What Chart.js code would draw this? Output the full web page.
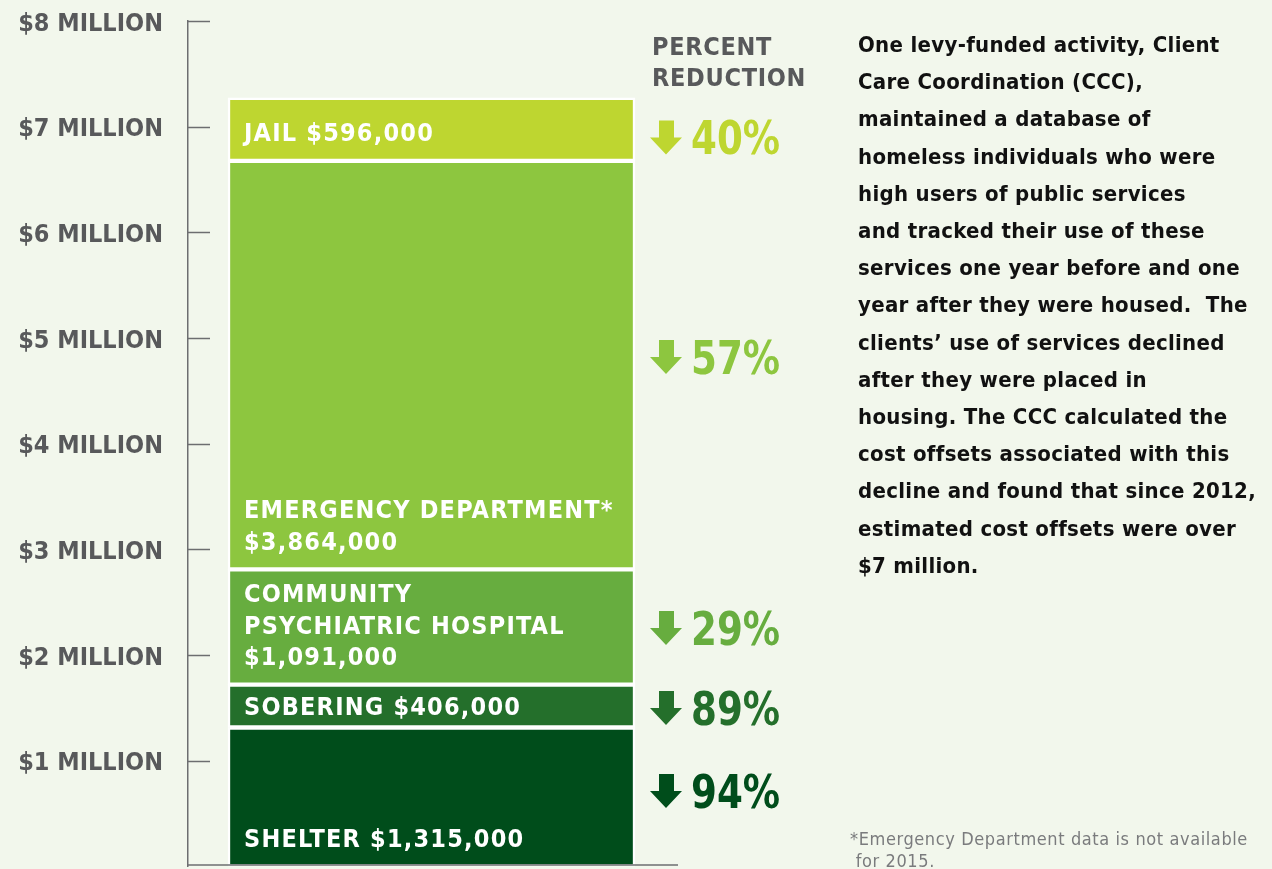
<!DOCTYPE html>
<html>
<head>
<meta charset="utf-8">
<script src="https://cdn.jsdelivr.net/npm/chart.js@4.4.1/dist/chart.umd.min.js"></script>
<style>
  html, body { margin: 0; padding: 0; }
  body { width: 1272px; height: 869px; background: #f2f7ec; position: relative; overflow: hidden;
         font-family: "DejaVu Sans Condensed", "DejaVu Sans", sans-serif; }
  #costChart { position: absolute; left: 0; top: 0; }
  .pct-title { position: absolute; left: 652px; top: 31px; color: #58595b; font-weight: bold;
               font-size: 25px; line-height: 31px; letter-spacing: 0.7px; }
  .story { position: absolute; left: 858px; top: 26px; color: #111; font-weight: bold;
           font-size: 22px; line-height: 37.2px; letter-spacing: 0.3px; }
  .note { position: absolute; left: 850px; top: 828px; color: #7a7b7d; font-size: 18px;
          line-height: 22px; letter-spacing: 0.6px; }
</style>
</head>
<body>
<canvas id="costChart" width="1272" height="869"></canvas>
<div class="pct-title">PERCENT<br>REDUCTION</div>
<div class="story">
  One levy-funded activity, Client<br>
  Care Coordination (CCC),<br>
  maintained a database of<br>
  homeless individuals who were<br>
  high users of public services<br>
  and tracked their use of these<br>
  services one year before and one<br>
  year after they were housed.&nbsp; The<br>
  clients’ use of services declined<br>
  after they were placed in<br>
  housing. The CCC calculated the<br>
  cost offsets associated with this<br>
  decline and found that since 2012,<br>
  estimated cost offsets were over<br>
  $7 million.
</div>
<div class="note">*Emergency Department data is not available<br>&nbsp;for 2015.</div>

<script>
// stacked from the bottom up
const services = ['Shelter', 'Sobering', 'Community Psychiatric Hospital', 'Emergency Department', 'Jail'];
const costs = [1315000, 406000, 1091000, 3864000, 596000];
const reductions = [94, 89, 29, 57, 40];
const segmentLabels = [
  ['SHELTER $1,315,000'],
  ['SOBERING $406,000'],
  ['COMMUNITY', 'PSYCHIATRIC HOSPITAL', '$1,091,000'],
  ['EMERGENCY DEPARTMENT*', '$3,864,000'],
  ['JAIL $596,000']
];
const colors = ['#004d1b', '#246f2b', '#67ad3f', '#8dc63f', '#bed630'];
const yTicks = [1, 2, 3, 4, 5, 6, 7, 8];

const axisGray = '#6d6e70';
const FONT = '"DejaVu Sans Condensed", "DejaVu Sans", sans-serif';
// small hand nudges of the percent labels, as in the original layout
const pctNudge = [-6, 2, 1, -8, 8];

const overlayPlugin = {
  id: 'overlay',
  afterDatasetsDraw(chart) {
    const { ctx, scales: { y }, chartArea } = chart;
    ctx.save();

    // tick marks on the inner side of the axis
    ctx.strokeStyle = axisGray;
    ctx.lineWidth = 1.5;
    yTicks.forEach(t => {
      const py = Math.round(y.getPixelForValue(t * 1e6)) + 0.5;
      ctx.beginPath();
      ctx.moveTo(chartArea.left, py);
      ctx.lineTo(chartArea.left + 22, py);
      ctx.stroke();
    });
    // baseline
    const by = y.getPixelForValue(0) - 1.5;
    ctx.beginPath();
    ctx.moveTo(chartArea.left, by);
    ctx.lineTo(678, by);
    ctx.stroke();

    chart.data.datasets.forEach((ds, i) => {
      const bar = chart.getDatasetMeta(i).data[0];
      const top = bar.y, bottom = bar.base;
      const mid = (top + bottom) / 2;
      const left = bar.x - bar.width / 2;
      const right = bar.x + bar.width / 2;

      // segment label, anchored near the bottom of the segment
      const lines = segmentLabels[i];
      const lastY = Math.max(mid + 2, bottom - 26);
      ctx.fillStyle = '#ffffff';
      ctx.font = 'bold 25px ' + FONT;
      ctx.letterSpacing = '1.2px';
      ctx.textAlign = 'left';
      ctx.textBaseline = 'middle';
      lines.forEach((ln, k) => {
        ctx.fillText(ln, left + 16, lastY - (lines.length - 1 - k) * 31.5);
      });

      // arrow + percent reduction
      const cy = mid + pctNudge[i];
      const ax = right + 15;
      ctx.fillStyle = colors[i];
      ctx.beginPath();
      ctx.moveTo(ax + 9, cy - 17);
      ctx.lineTo(ax + 24, cy - 17);
      ctx.lineTo(ax + 24, cy);
      ctx.lineTo(ax + 32, cy);
      ctx.lineTo(ax + 16, cy + 17);
      ctx.lineTo(ax, cy);
      ctx.lineTo(ax + 9, cy);
      ctx.closePath();
      ctx.fill();

      ctx.save();
      ctx.translate(ax + 41, cy + 17);
      ctx.scale(0.88, 1);
      ctx.font = 'bold 47px ' + FONT;
      ctx.letterSpacing = '0px';
      ctx.textBaseline = 'alphabetic';
      ctx.fillText(reductions[i] + '%', 0, 0);
      ctx.restore();
    });
    ctx.restore();
  }
};

const chart = new Chart(document.getElementById('costChart'), {
  type: 'bar',
  data: {
    labels: ['Cost offsets'],
    datasets: services.map((s, i) => ({
      label: s,
      data: [costs[i]],
      backgroundColor: colors[i],
      borderColor: '#ffffff',
      borderWidth: 2.5,
      borderSkipped: false,
      barThickness: 407
    }))
  },
  options: {
    responsive: false,
    animation: false,
    layout: { padding: { top: 21, right: 597, bottom: 2.5, left: 0 } },
    plugins: { legend: { display: false }, tooltip: { enabled: false } },
    scales: {
      x: { stacked: true, display: false },
      y: {
        stacked: true,
        min: 0,
        max: 8000000,
        afterFit(scale) {
          scale.width = 188;
          scale.paddingTop = 0;
          scale.paddingBottom = 0;
        },
        grid: { display: false, drawTicks: false },
        border: { display: true, color: axisGray, width: 1.5 },
        ticks: {
          stepSize: 1000000,
          padding: 25,
          labelOffset: 3,
          color: '#58595b',
          font: { family: FONT, size: 25, weight: 'bold' },
          callback: v => v === 0 ? '' : '$' + (v / 1e6) + ' MILLION'
        }
      }
    }
  },
  plugins: [overlayPlugin]
});
</script>
</body>
</html>
